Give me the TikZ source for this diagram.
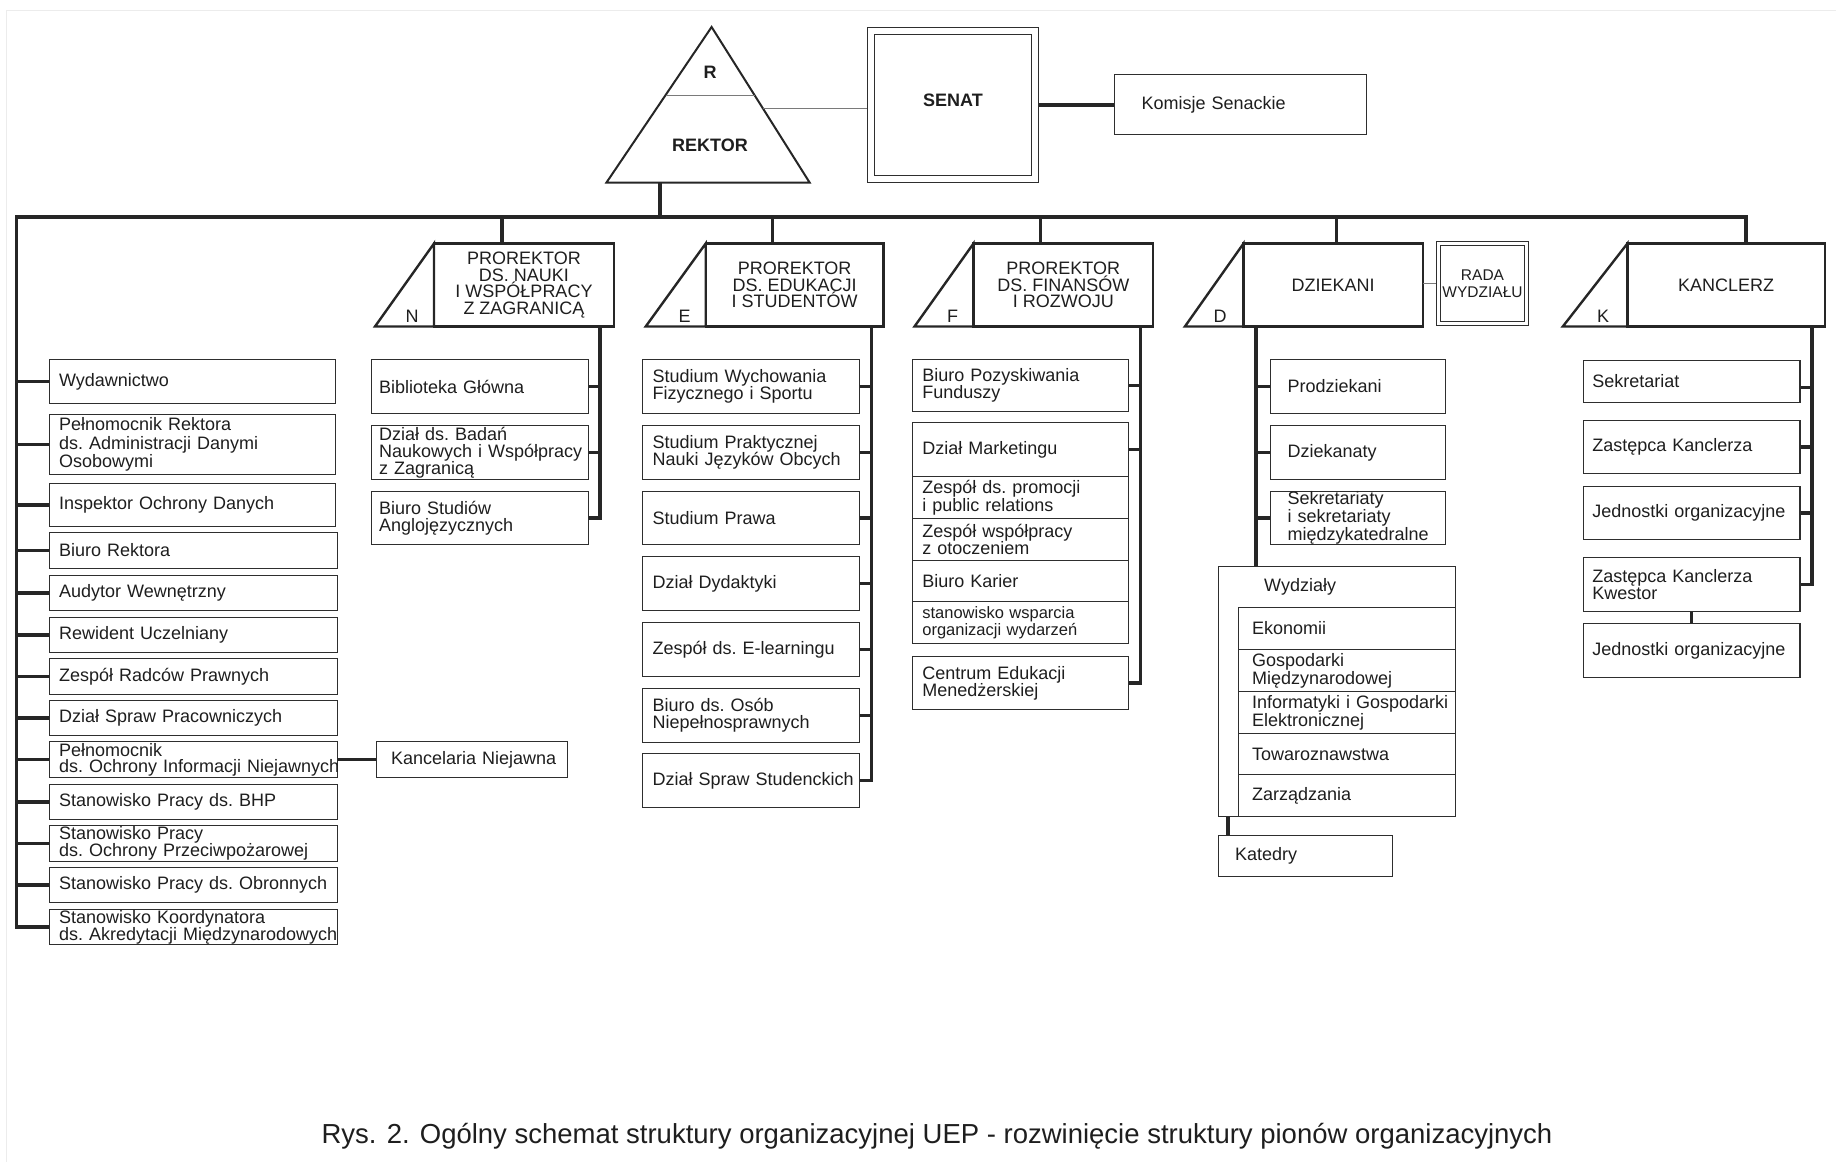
\documentclass[tikz,border=0pt]{standalone}
\usepackage{fontspec}
\setmainfont{Liberation Sans}
\usetikzlibrary{calc}

\definecolor{ink}{HTML}{1E1E1E}
\definecolor{edge}{HTML}{2E2E2E}
\definecolor{barcol}{HTML}{262626}
\definecolor{thin}{HTML}{7A7A7A}
\definecolor{framec}{HTML}{ECECEC}

% type sizes (1pt = one unit of the drawing)
\newcommand\fsz{\fontsize{18}{17}\selectfont}
\newcommand\fszL{\fontsize{18}{18.5}\selectfont}
\newcommand\fszF{\fontsize{18}{16.3}\selectfont}
\newcommand\fszH{\fontsize{18}{16.7}\selectfont}
\newcommand\fszS{\fontsize{16.5}{14.5}\selectfont}
\newcommand\fszR{\fontsize{15.5}{17}\selectfont}
% no word breaks inside the boxes
\newcommand\nohyph{\hyphenpenalty=10000\exhyphenpenalty=10000\lefthyphenmin=64\relax}

\tikzset{
  conn/.style={draw=barcol, line width=3.2pt},
  thinline/.style={draw=thin, line width=1.2pt},
  unitbase/.style={draw=edge, line width=1.1pt, rectangle, anchor=north west,
    align=left, inner ysep=0pt, font=\fsz, text=ink,
    execute at begin node=\nohyph},
  % unit={width}{height}{left/right padding}
  unit/.code n args={3}{%
    \pgfmathsetmacro\unittw{#1-2*(#3)}%
    \edef\unitopts{unitbase,minimum width=#1pt,minimum height=#2pt,inner xsep=#3pt,text width=\unittw pt}%
    \expandafter\tikzset\expandafter{\unitopts}%
  },
  headbase/.style={draw=barcol, line width=2.4pt, rectangle, anchor=north west,
    align=center, inner sep=0pt, outer sep=0pt, font=\fszH, text=ink},
  head/.style 2 args={headbase, minimum width=#1pt, minimum height=#2pt},
  headline/.style={draw=barcol, line width=2.4pt, line join=miter},
  letter/.style={font=\fsz, text=ink, inner sep=0pt},
}

\begin{document}
\nohyph
\begin{tikzpicture}[x=1pt,y=-1pt]
\useasboundingbox (0,0) rectangle (1836,1162);

% faint sheet frame
\draw[draw=framec, line width=1pt] (1836,10) -- (6,10) -- (6,1162);

% ---------------- Rektor, Senat ----------------
\coordinate (rkA) at (711.6,27);
\coordinate (rkL) at (606.5,182.5);
\coordinate (rkR) at (809.6,182.5);
\draw[draw=barcol, line width=2pt, line join=miter] (rkA) -- (rkR) -- (rkL) -- cycle;
\draw[thinline] ($(rkA)!0.4387!(rkL)$) -- ($(rkA)!0.4387!(rkR)$);
\node[font=\bfseries\fsz, text=ink, inner sep=0pt] (rektorR) at (710,72) {R};
\node[font=\bfseries\fsz, text=ink, inner sep=0pt] (rektor) at (710,145) {REKTOR};
\coordinate (rkE) at ($(rkA)!0.5226!(rkR)$);
\coordinate (rkStem) at (660,182.5);

\node[draw=edge, line width=1.1pt, double=white, double distance=5.6pt, outer sep=3.9pt,
  inner sep=0pt, minimum width=163.8pt, minimum height=148pt, font=\bfseries\fsz,
  text=ink, text height=13pt, text depth=10pt] (senat) at (952.9,105) {SENAT};
\node[unit={252}{60}{27}] (kom) at (1114,74) {Komisje~Senackie};

\draw[thinline] (rkE) -- (rkE -| senat.west);
\draw[conn] (senat.east) -- (senat.east -| kom.west);

% ---------------- heads of the divisions ----------------
\node[head={180}{83}] (N) at (434,243.5) {PROREKTOR\\DS.~NAUKI\\I~WSPÓŁPRACY\\Z~ZAGRANICĄ};
\node[head={177.8}{83}] (E) at (705.7,243.5) {PROREKTOR\\DS.~EDUKACJI\\I~STUDENTÓW};
\node[head={179.5}{83}] (F) at (973.5,243.5) {PROREKTOR\\DS.~FINANSÓW\\I~ROZWOJU};
\node[head={179.2}{83}] (D) at (1243.5,243.5) {DZIEKANI};
\node[head={197.6}{83}] (K) at (1627.4,243.5) {KANCLERZ};

\foreach \h/\d in {N/59,E/60,F/59,D/58.6,K/64.6}
  \draw[headline] ([xshift=-\d pt]\h.south west) -- (\h.north west) -- (\h.south west) -- cycle;
\foreach \h/\dx in {N/22,E/21,F/21,D/23.5,K/24.4}
  \node[letter] (\h-let) at ($(\h.south west)+(-\dx,-10.5)$) {\h};

\node[draw=edge, line width=1pt, double=white, double distance=2.7pt, outer sep=2.35pt,
  inner sep=0pt, minimum width=88pt, minimum height=80pt, align=center, font=\fszR,
  text=ink] (rada) at (1482.5,283.5) {RADA\\WYDZIAŁU};
\draw[thinline] (D.east |- rada.west) -- (rada.west);

% ---------------- units reporting to the Rektor ----------------
\node[unit={286.5}{44}{10}] (L1) at (48.5,359) {Wydawnictwo};
\node[unit={286.5}{60}{10}, font=\fszL] (L2) at (48.5,414) {Pełnomocnik~Rektora\\ds.~Administracji~Danymi\\Osobowymi};
\node[unit={286.5}{43}{10}] (L3) at (48.5,483) {Inspektor~Ochrony~Danych};
\node[unit={288.5}{36}{10}] (L4) at (48.5,532) {Biuro~Rektora};
\node[unit={288.5}{35}{10}] (L5) at (48.5,575) {Audytor~Wewnętrzny};
\node[unit={288.5}{35}{10}] (L6) at (48.5,617) {Rewident~Uczelniany};
\node[unit={288.5}{36}{10}] (L7) at (48.5,658) {Zespół~Radców~Prawnych};
\node[unit={288.5}{35}{10}] (L8) at (48.5,700) {Dział~Spraw~Pracowniczych};
\node[unit={288.5}{36}{10}, font=\fszF] (L9) at (48.5,741) {Pełnomocnik\\ds.~Ochrony~Informacji~Niejawnych};
\node[unit={288.5}{35}{10}] (L10) at (48.5,784) {Stanowisko~Pracy~ds.~BHP};
\node[unit={288.5}{36}{10}] (L11) at (48.5,825) {Stanowisko~Pracy\\ds.~Ochrony~Przeciwpożarowej};
\node[unit={288.5}{35}{10}] (L12) at (48.5,867) {Stanowisko~Pracy~ds.~Obronnych};
\node[unit={288.5}{35}{10}] (L13) at (48.5,909) {Stanowisko~Koordynatora\\ds.~Akredytacji~Międzynarodowych};
\node[unit={191}{36}{14.5}] (kn) at (376,741) {Kancelaria~Niejawna};

% ---------------- Prorektor N ----------------
\node[unit={217.5}{54}{8}] (N1) at (370.5,359) {Biblioteka~Główna};
\node[unit={217.5}{54}{8}] (N2) at (370.5,425) {Dział~ds.~Badań\\Naukowych~i~Współpracy\\z~Zagranicą};
\node[unit={217.5}{53}{8}] (N3) at (370.5,491) {Biuro~Studiów\\Anglojęzycznych};

% ---------------- Prorektor E ----------------
\node[unit={216.5}{54}{10}] (E1) at (642,359) {Studium~Wychowania\\Fizycznego~i~Sportu};
\node[unit={216.5}{54}{10}] (E2) at (642,425) {Studium~Praktycznej\\Nauki~Języków~Obcych};
\node[unit={216.5}{53}{10}] (E3) at (642,491) {Studium~Prawa};
\node[unit={216.5}{54}{10}] (E4) at (642,556) {Dział~Dydaktyki};
\node[unit={216.5}{54}{10}] (E5) at (642,622) {Zespół~ds.~E-learningu};
\node[unit={216.5}{54}{10}] (E6) at (642,688) {Biuro~ds.~Osób\\Niepełnosprawnych};
\node[unit={216.5}{54}{10}] (E7) at (642,753) {Dział~Spraw~Studenckich};

% ---------------- Prorektor F ----------------
\node[unit={216.2}{52}{10}] (F1) at (911.8,359) {Biuro~Pozyskiwania\\Funduszy};
\node[unit={216.2}{54}{10}] (F2) at (911.8,422) {Dział~Marketingu};
\node[unit={216.2}{42}{10}, font=\fszF] (F3) at (911.8,476) {Zespół~ds.~promocji\\i~public~relations};
\node[unit={216.2}{42}{10}, font=\fszF] (F4) at (911.8,518) {Zespół~współpracy\\z~otoczeniem};
\node[unit={216.2}{41}{10}] (F5) at (911.8,560) {Biuro~Karier};
\node[unit={216.2}{42}{10}, font=\fszS] (F6) at (911.8,601) {stanowisko~wsparcia\\organizacji~wydarzeń};
\node[unit={216.2}{53}{10}] (F7) at (911.8,656) {Centrum~Edukacji\\Menedżerskiej};

% ---------------- Dziekani ----------------
\node[unit={175}{54}{17}] (D1) at (1270,359) {Prodziekani};
\node[unit={175}{54}{17}] (D2) at (1270,425) {Dziekanaty};
\node[unit={175}{53}{17}, font=\fszF] (D3) at (1270,491) {Sekretariaty\\i~sekretariaty\\międzykatedralne};

\node[draw=edge, line width=1.1pt, rectangle, anchor=north west, minimum width=236.5pt,
  minimum height=250pt, inner sep=0pt] (wyd) at (1218,566) {};
\node[anchor=west, font=\fsz, text=ink, inner sep=0pt] (wydt) at (1264,587) {Wydziały};
\node[unit={216.5}{42}{13.5}] (W1) at (1238,607) {Ekonomii};
\node[unit={216.5}{42}{13.5}, font=\fszF] (W2) at (1238,649) {Gospodarki\\Międzynarodowej};
\node[unit={216.5}{42}{13.5}, font=\fszF] (W3) at (1238,691) {Informatyki~i~Gospodarki\\Elektronicznej};
\node[unit={216.5}{41}{13.5}] (W4) at (1238,733) {Towaroznawstwa};
\node[unit={216.5}{42}{13.5}] (W5) at (1238,774) {Zarządzania};
\node[unit={174}{41}{17}] (kat) at (1217.6,835) {Katedry};

% ---------------- Kanclerz ----------------
\node[unit={216.6}{42}{9}] (K1) at (1582.8,360) {Sekretariat};
\node[unit={216.6}{53}{9}] (K2) at (1582.8,420) {Zastępca~Kanclerza};
\node[unit={216.6}{53}{9}] (K3) at (1582.8,486) {Jednostki~organizacyjne};
\node[unit={216.6}{54}{9}] (K4) at (1582.8,557) {Zastępca~Kanclerza\\Kwestor};
\node[unit={216.6}{54}{9}] (K5) at (1582.8,623) {Jednostki~organizacyjne};

% ---------------- main bus and drops ----------------
\coordinate (busW) at (16.6,217);
\coordinate (busE) at (1746,217);
\coordinate (dN) at (502,217);
\coordinate (dE) at (772.5,217);
\coordinate (dF) at (1040.7,217);
\coordinate (dD) at (1336.5,217);

\draw[conn] (rkStem) -- (rkStem |- busW);
\draw[conn] (K.north -| busE) -- (busE) -- (busW) |- (L13.west);
\foreach \i in {1,...,12}
  \draw[conn] (L\i.west) -- (L\i.west -| busW);
\draw[conn] (L9.east) -- (kn.west);

\foreach \p in {dN,dE,dF,dD}
  \draw[conn] (\p) -- (\p |- N.north);

% trunks of the divisions
\coordinate (Nv) at (600,0);
\coordinate (Ev) at (871.8,0);
\coordinate (Fv) at (1140.6,0);
\coordinate (Dv) at (1256,0);
\coordinate (Kv) at (1812,0);
\coordinate (katx) at (1228,0);

\draw[conn] (N.south -| Nv) |- (N3.east);
\foreach \i in {1,2}
  \draw[conn] (N\i.east) -- (N\i.east -| Nv);

\draw[conn] (E.south -| Ev) |- (E7.east);
\foreach \i in {1,...,6}
  \draw[conn] (E\i.east) -- (E\i.east -| Ev);

\draw[conn] (F.south -| Fv) |- (F7.east);
\foreach \i in {1,2}
  \draw[conn] (F\i.east) -- (F\i.east -| Fv);

\draw[conn] (D.south -| Dv) -- (wyd.north -| Dv);
\foreach \i in {1,2,3}
  \draw[conn] (D\i.west) -- (D\i.west -| Dv);
\draw[conn] (wyd.south -| katx) -- (kat.north -| katx);

\draw[conn] (K.south -| Kv) |- (K4.east);
\draw[conn] ([yshift=-6pt]K1.east) -- ([yshift=-6pt]K1.east -| Kv);
\foreach \i in {2,3}
  \draw[conn] (K\i.east) -- (K\i.east -| Kv);
\draw[conn] (K4.south) -- (K5.north);

% ---------------- caption ----------------
\node[font=\fontsize{27.5}{30}\selectfont, text=ink, inner sep=0pt] (cap) at (937,1136)
  {Rys. 2. Ogólny schemat struktury organizacyjnej UEP - rozwinięcie struktury pionów organizacyjnych};
\end{tikzpicture}
\end{document}
